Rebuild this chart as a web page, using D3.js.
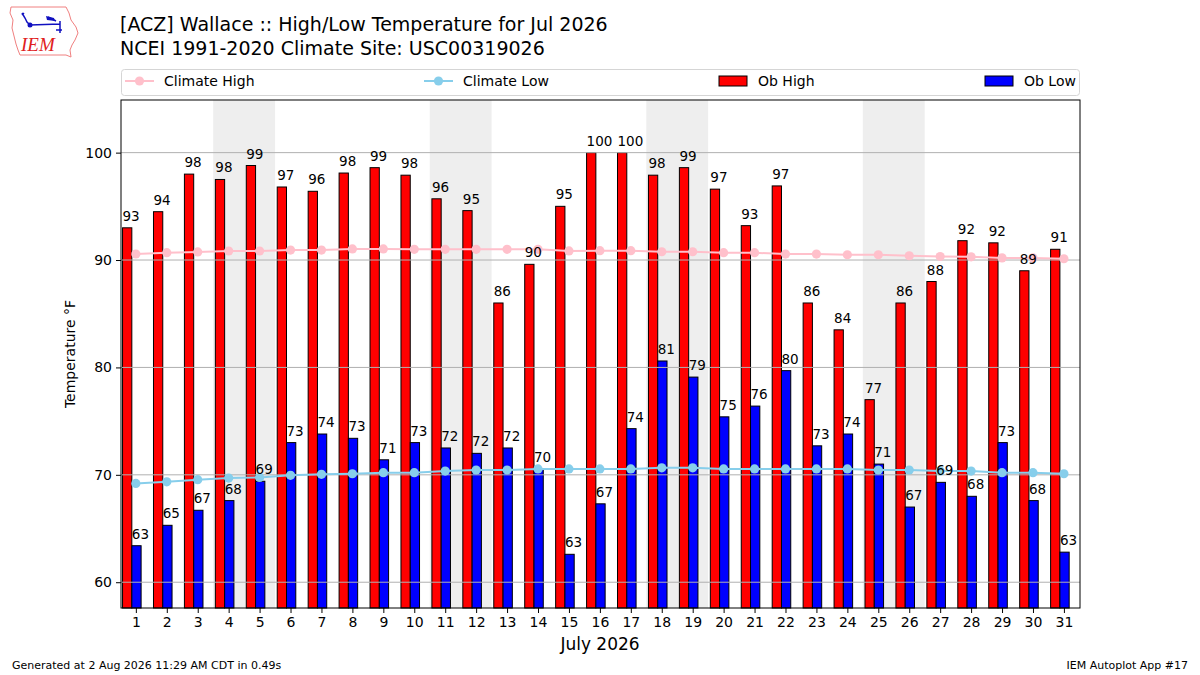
<!DOCTYPE html>
<html>
<head>
<meta charset="utf-8">
<script src="https://cdn.jsdelivr.net/npm/d3@7"></script>
<style>
  body { margin: 0; background: white; }
  svg { font-family: "DejaVu Sans", sans-serif; }
</style>
</head>
<body>
<script>
// Days of the month
const days = d3.range(1, 32);

// Observed high / low temperatures (F)
const obHigh = [93.0, 94.5, 98.0, 97.5, 98.8, 96.8, 96.4, 98.1, 98.6, 97.9, 95.7, 94.6, 86.0, 89.6, 95.0, 100.0,
                100.0, 97.9, 98.6, 96.6, 93.2, 96.9, 86.0, 83.5, 77.0, 86.0, 88.0, 91.8, 91.6, 89.0, 91.0];
const obLow = [63.4, 65.3, 66.7, 67.6, 69.4, 73.0, 73.8, 73.4, 71.4, 73.0, 72.5, 72.0, 72.5, 70.5, 62.6, 67.3,
               74.3, 80.6, 79.1, 75.4, 76.4, 79.7, 72.7, 73.8, 71.0, 67.0, 69.3, 68.0, 73.0, 67.6, 62.8];

// Climatology (NCEI 1991-2020)
const climateHigh = [90.56, 90.68, 90.75, 90.84, 90.84, 90.93, 90.93, 91.03, 91.03, 91.0, 91.0, 91.0, 91.0, 91.0, 90.85, 90.87,
                     90.87, 90.77, 90.77, 90.68, 90.68, 90.55, 90.55, 90.49, 90.49, 90.4, 90.33, 90.3, 90.2, 90.2, 90.12];
const climateLow = [69.2, 69.35, 69.55, 69.7, 69.75, 69.95, 70.05, 70.1, 70.2, 70.2, 70.35, 70.45, 70.45, 70.55, 70.55, 70.55,
                    70.55, 70.65, 70.65, 70.55, 70.55, 70.55, 70.55, 70.55, 70.45, 70.45, 70.35, 70.35, 70.2, 70.2, 70.1];

// Saturdays (weekend shading covers Sat + Sun)
const saturdays = [4, 11, 18, 25];

const yTicks = [60, 70, 80, 90, 100];

let width = 1200;
let height = 675;

let svg = d3.select("body").append("svg")
    .attr("width", width)
    .attr("height", height);

let x = d3.scaleLinear().domain([0.52, 31.52]).range([121, 1080]);
let y = d3.scaleLinear().domain([57.6, 104.9]).range([608, 100]);

// python style rounding (half to even) for the labels
function roundEven(v) {
    let r = Math.round(v);
    if (Math.abs(v % 1) === 0.5 && r % 2 !== 0) r -= 1;
    return r;
}

// weekend shading
svg.append("g")
  .selectAll("rect")
  .data(saturdays)
  .join("rect")
    .attr("x", d => x(d - 0.5))
    .attr("y", y(104.9))
    .attr("width", d => x(d + 1.5) - x(d - 0.5))
    .attr("height", y(57.6) - y(104.9))
    .attr("fill", "#eeeeee");

// bars
let bars = svg.append("g").attr("stroke", "black").attr("stroke-width", 1);

bars.selectAll("rect.high")
  .data(days)
  .join("rect")
    .attr("class", "high")
    .attr("x", d => x(d - 0.43))
    .attr("y", (d, i) => y(obHigh[i]))
    .attr("width", x(0.3) - x(0))
    .attr("height", (d, i) => y(57.6) - y(obHigh[i]))
    .attr("fill", "#ff0000");

bars.selectAll("rect.low")
  .data(days)
  .join("rect")
    .attr("class", "low")
    .attr("x", d => x(d - 0.13))
    .attr("y", (d, i) => y(obLow[i]))
    .attr("width", x(0.3) - x(0))
    .attr("height", (d, i) => y(57.6) - y(obLow[i]))
    .attr("fill", "#0000ff");

// horizontal grid
svg.append("g")
  .selectAll("line")
  .data(yTicks)
  .join("line")
    .attr("x1", 121).attr("x2", 1080)
    .attr("y1", d => y(d)).attr("y2", d => y(d))
    .attr("stroke", "#b0b0b0")
    .attr("stroke-width", 1);

// climate lines with markers
function climateLine(values, color) {
    let line = d3.line()
        .x((d, i) => x(days[i]))
        .y(d => y(d));
    svg.append("path")
        .datum(values)
        .attr("d", line)
        .attr("fill", "none")
        .attr("stroke", color)
        .attr("stroke-width", 2);
    svg.append("g")
      .selectAll("circle")
      .data(values)
      .join("circle")
        .attr("cx", (d, i) => x(days[i]))
        .attr("cy", d => y(d))
        .attr("r", 4.6)
        .attr("fill", color);
}
climateLine(climateHigh, "#ffc0cb");
climateLine(climateLow, "#87ceeb");

// bar value labels
let labels = svg.append("g").attr("font-size", "13.5px").attr("fill", "black");

labels.selectAll("text.high")
  .data(days)
  .join("text")
    .attr("class", "high")
    .attr("x", d => x(d - 0.43))
    .attr("y", (d, i) => y(obHigh[i]) - 7)
    .text((d, i) => roundEven(obHigh[i]));

labels.selectAll("text.low")
  .data(days)
  .join("text")
    .attr("class", "low")
    .attr("x", d => x(d - 0.13))
    .attr("y", (d, i) => y(obLow[i]) - 7)
    .text((d, i) => roundEven(obLow[i]));

// axes frame
svg.append("rect")
    .attr("x", 121).attr("y", 100)
    .attr("width", 959).attr("height", 508)
    .attr("fill", "none")
    .attr("stroke", "black")
    .attr("stroke-width", 1);

let xAxis = svg.append("g")
    .attr("transform", "translate(0,608)")
    .call(d3.axisBottom(x).tickValues(days).tickSize(5).tickPadding(4));
let yAxis = svg.append("g")
    .attr("transform", "translate(121,0)")
    .call(d3.axisLeft(y).tickValues(yTicks).tickSize(5).tickPadding(4));

[xAxis, yAxis].forEach(a => {
    a.select(".domain").remove();
    a.selectAll("text").attr("font-size", "14px").attr("font-family", "DejaVu Sans").attr("fill", "black");
    a.selectAll("line").attr("stroke", "black");
});

// axis titles
svg.append("text")
    .attr("transform", "translate(75,354) rotate(-90)")
    .attr("text-anchor", "middle")
    .attr("font-size", "14px")
    .text("Temperature °F");

svg.append("text")
    .attr("x", 600).attr("y", 650)
    .attr("text-anchor", "middle")
    .attr("font-size", "17px")
    .text("July 2026");

// titles
svg.append("text")
    .attr("x", 120).attr("y", 31)
    .attr("font-size", "19px")
    .text("[ACZ] Wallace :: High/Low Temperature for Jul 2026");
svg.append("text")
    .attr("x", 120).attr("y", 55)
    .attr("font-size", "19px")
    .text("NCEI 1991-2020 Climate Site: USC00319026");

// legend
let legend = svg.append("g");
legend.append("rect")
    .attr("x", 121.5).attr("y", 69.5)
    .attr("width", 958).attr("height", 26)
    .attr("rx", 3)
    .attr("fill", "white")
    .attr("stroke", "#d5d5d5");

let legendItems = [
    {name: "Climate High", color: "#ffc0cb", type: "line", x: 125},
    {name: "Climate Low", color: "#87ceeb", type: "line", x: 424},
    {name: "Ob High", color: "#ff0000", type: "patch", x: 719},
    {name: "Ob Low", color: "#0000ff", type: "patch", x: 985}
];

legendItems.forEach(item => {
    if (item.type === "line") {
        legend.append("line")
            .attr("x1", item.x).attr("x2", item.x + 29)
            .attr("y1", 81).attr("y2", 81)
            .attr("stroke", item.color).attr("stroke-width", 2);
        legend.append("circle")
            .attr("cx", item.x + 14.5).attr("cy", 81)
            .attr("r", 4.6).attr("fill", item.color);
    } else {
        legend.append("rect")
            .attr("x", item.x).attr("y", 76)
            .attr("width", 28).attr("height", 10)
            .attr("fill", item.color).attr("stroke", "black");
    }
    legend.append("text")
        .attr("x", item.x + 39).attr("y", 86)
        .attr("font-size", "14px")
        .text(item.name);
});

// footer
svg.append("text")
    .attr("x", 12).attr("y", 669)
    .attr("font-size", "11px")
    .text("Generated at 2 Aug 2026 11:29 AM CDT in 0.49s");
svg.append("text")
    .attr("x", 1188).attr("y", 669)
    .attr("text-anchor", "end")
    .attr("font-size", "11px")
    .text("IEM Autoplot App #17");

// IEM logo (rough state outline + mark)
let logo = svg.append("g");
logo.append("path")
    .attr("d", "M11,7 L66,7 L69,13 L71,20 L76,27 L78,33 L75,40 L72,45 L70,50 L71,57 L66,55 L20,55 L18,50 L16,44 L14,36 L12,28 L13,20 L10,13 Z")
    .attr("fill", "none")
    .attr("stroke", "#f08080")
    .attr("stroke-width", 1);
logo.append("path")
    .attr("d", "M22,13 L25,18 L27,22 L30,25 L60,24 M48,17 L56,21 M60,21 L60,33 M56,30 L62,30 M24,13 L22,15")
    .attr("fill", "none")
    .attr("stroke", "#1010c0")
    .attr("stroke-width", 1.5);
logo.append("circle").attr("cx", 30).attr("cy", 25).attr("r", 2.5).attr("fill", "#1010c0");
logo.append("path").attr("d", "M46,16 L54,18 L55,21 L47,20 Z").attr("fill", "#1010c0");
logo.append("text")
    .attr("x", 21).attr("y", 51)
    .attr("font-family", "Liberation Serif")
    .attr("font-style", "italic")
    .attr("font-size", "19px")
    .attr("fill", "#e02020")
    .text("IEM");
</script>
</body>
</html>
